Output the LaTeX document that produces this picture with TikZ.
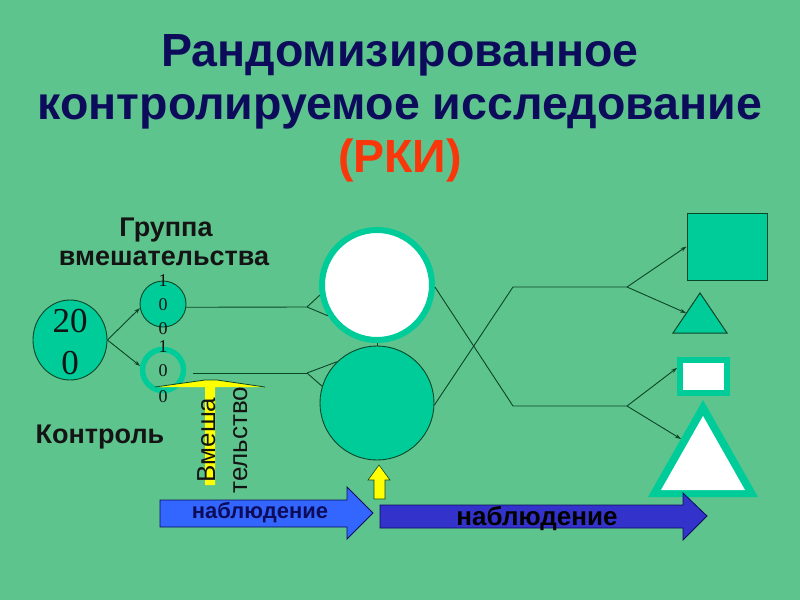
\documentclass[tikz,border=0pt]{standalone}
\usepackage{fontspec}
\setmainfont{Liberation Sans}
\newfontfamily\numfont{Liberation Serif}
\usetikzlibrary{arrows.meta,shapes.geometric}
\definecolor{bg}{RGB}{94,196,142}
\definecolor{tealA}{RGB}{0,204,153}
\definecolor{dk}{RGB}{10,70,40}
\definecolor{navy}{RGB}{12,12,90}
\definecolor{rki}{RGB}{250,55,10}
\definecolor{lblue}{RGB}{51,102,255}
\definecolor{dblue}{RGB}{51,51,204}
\definecolor{ylw}{RGB}{255,255,0}
\definecolor{lbl}{RGB}{20,20,20}
\begin{document}
\begin{tikzpicture}[x=1pt,y=-1pt,
  titlefont/.style={font=\fontsize{46.5}{46.5}\selectfont\bfseries, text=navy, inner sep=0pt, anchor=base},
  lab/.style={font=\fontsize{27}{27}\selectfont\bfseries, text=lbl, inner sep=0pt, anchor=base},
  num/.style={font=\numfont\fontsize{18}{18}\selectfont, inner sep=0pt, anchor=base, text=lbl},
  bignum/.style={font=\numfont\fontsize{35}{35}\selectfont, inner sep=0pt, anchor=base, text=lbl},
  ln/.style={draw=dk, line width=0.9pt},
  arr/.style={ln, -{Stealth[length=6pt,width=4pt]}},
  vtext/.style={font=\fontsize{26}{26}\selectfont, rotate=90, inner sep=0pt, anchor=base, text=lbl},
  bluearrow/.style={draw=navy, line width=0.8pt, line join=miter},
]
\fill[bg] (0,0) rectangle (800,600);
\useasboundingbox (0,0) rectangle (800,600);

% title
\node[titlefont] (t1) at (400,66) {Рандомизированное};
\node[titlefont] (t2) at (400,119) {контролируемое исследование};
\node[titlefont, text=rki] (t3) at (400,172) {(РКИ)};

% labels
\node[lab] (g1) at (166,236) {Группа};
\node[lab] (g2) at (164,265) {вмешательства};
\node[lab] (k) at (100,443) {Контроль};

% start ellipse
\node[ellipse, minimum width=74pt, minimum height=80pt, inner sep=0pt, fill=tealA, draw=dk, line width=0.9pt] (n200) at (70,340) {};
\node[bignum] (n200a) at (70,332) {20};
\node[bignum] (n200b) at (70,374) {0};

% small circles
\node[circle, minimum size=46pt, inner sep=0pt, fill=tealA, draw=dk, line width=0.9pt] (c1) at (163,304) {};
\node[circle, minimum size=41pt, inner sep=0pt, draw=tealA, line width=5.5pt] (c2) at (163,370) {};

\draw[arr] (n200.east) -- (c1.190);
\draw[arr] (n200.east) -- (c2.170);

% big circles
\node[circle, minimum size=110pt, inner sep=0pt, fill=white, draw=tealA, line width=6pt] (w) at (377,285) {};
\node[circle, minimum size=114pt, inner sep=0pt, fill=tealA, draw=dk, line width=0.9pt] (g) at (377,403) {};
\draw[ln] (w.south) -- (g.north);

% lines from small circles to big circles
\coordinate (f1) at (307,307);
\coordinate (f2) at (307,373);
\coordinate (s2) at (193,373);
\draw[ln] (c1.-8) -- (f1);
\draw[ln] (f1) -- (w.190);
\draw[ln] (f1) -- (w.212);
\draw[ln] (s2) -- (f2);
\draw[ln] (f2) -- (g.134);
\draw[ln] (f2) -- (g.163);

% crossing lines
\coordinate (x1) at (513,406);
\coordinate (x2) at (513,287);
\coordinate (r1) at (627,287);
\coordinate (r2) at (627,406);
\draw[ln] (w.-2) -- (x1) -- (r2);
\draw[ln] (g.-2) -- (x2) -- (r1);

% outcome shapes
\node[rectangle, minimum width=80pt, minimum height=67pt, inner sep=0pt, fill=tealA, draw=dk, line width=1pt] (sq) at (727,246.5) {};
\coordinate (ta) at (700,293);
\coordinate (tl) at (686,313);
\filldraw[fill=tealA, draw=dk, line width=1pt] (673,333) -- (ta) -- (727,333) -- cycle;
\node[rectangle, minimum width=47pt, minimum height=33pt, inner sep=0pt, fill=white, draw=tealA, line width=6pt] (wr) at (703.5,376.5) {};
\coordinate (bt) at (703,400);
\coordinate (btl) at (681,439);
\fill[tealA] (648,497) -- (bt) -- (758,497) -- cycle;
\fill[white] (661,490) -- (703,416) -- (745,490) -- cycle;

\draw[arr] (r1) -- (sq.west);
\draw[arr] (r1) -- (tl);
\draw[arr] (r2) -- (wr.162);
\draw[arr] (r2) -- (btl);

% yellow intervention arrow
\fill[ylw] (155,387) -- (205,380) -- (217,380) -- (265,387) -- (215,387) -- (215,485) -- (205,485) -- (205,387) -- cycle;
\draw[dk, line width=0.8pt] (155,387) -- (205,380) -- (217,380) -- (265,387);
\node[vtext] (v1) at (215,440) {Вмеша};
\node[vtext] (v2) at (247,440) {тельство};

% numbers in small circles
\node[num] (a1) at (163,286.5) {1};
\node[num] (a2) at (163,310.5) {0};
\node[num] (a3) at (163,334.5) {0};
\node[num] (b1) at (163,352.5) {1};
\node[num] (b2) at (163,376.5) {0};
\node[num] (b3) at (163,402.5) {0};

% small yellow arrow
\filldraw[fill=ylw, draw=dk, line width=0.6pt] (379,465) -- (390,480) -- (385,480) -- (385,499) -- (374,499) -- (374,480) -- (368,480) -- cycle;

% observation arrows
\filldraw[bluearrow, fill=lblue] (160,500) -- (347,500) -- (347,487) -- (373,513) -- (347,539) -- (347,527) -- (160,527) -- cycle;
\node[font=\fontsize{22}{22}\selectfont\bfseries, text=navy, inner sep=0pt] (o1) at (260,513) {наблюдение};
\filldraw[bluearrow, fill=dblue] (380,505) -- (683,505) -- (683,493) -- (707,516) -- (683,540) -- (683,528) -- (380,528) -- cycle;
\node[font=\fontsize{26}{26}\selectfont\bfseries, text=black, inner sep=0pt] (o2) at (537,519) {наблюдение};
\end{tikzpicture}
\end{document}
